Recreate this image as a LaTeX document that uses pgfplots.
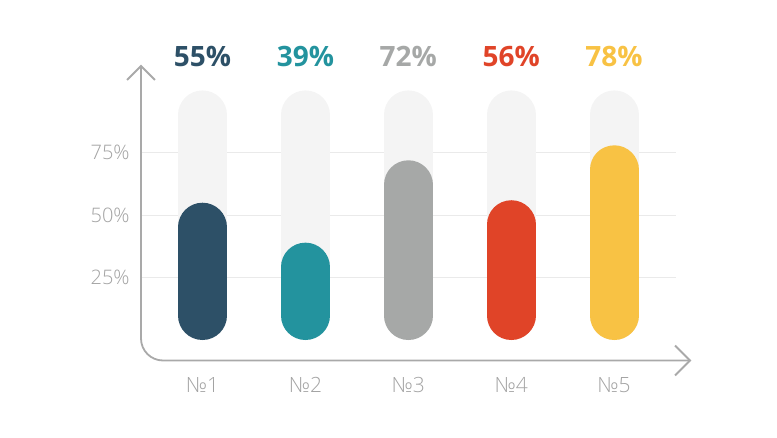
\documentclass[border=0pt]{standalone}
\usepackage{fontspec}
\setmainfont{Open Sans}
\newfontfamily\lightfont{Open Sans Light}
\usepackage{pgfplots}
\pgfplotsset{compat=1.18}
\definecolor{cA}{HTML}{2D5067}
\definecolor{cB}{HTML}{23939E}
\definecolor{cC}{HTML}{A6A8A7}
\definecolor{cD}{HTML}{E04428}
\definecolor{cE}{HTML}{F8C244}
\definecolor{bgc}{HTML}{F4F4F4}
\definecolor{axc}{HTML}{A9A9A9}
\definecolor{gridc}{HTML}{EAEAEA}
\definecolor{tickc}{HTML}{A3A3A3}
\newcommand\pill[3]{%
  \addplot[draw=bgc, mark=none, line width=49pt, line cap=round, shorten <=24.5pt, shorten >=24.5pt] coordinates {(#1,0) (#1,100)};
  \addplot[draw=#3, mark=none, line width=49pt, line cap=round, shorten <=24.5pt, shorten >=24.5pt] coordinates {(#1,0) (#1,#2)};
  \node[anchor=base, text=#3, inner sep=0pt, font=\fontsize{28}{34}\selectfont\bfseries] at (axis cs:#1,109.5) {#2\%};
}
\begin{document}
\begin{tikzpicture}
\path[use as bounding box] (0,0) rectangle (777pt,437pt);
\begin{axis}[
  at={(140.8pt,97pt)}, anchor=south west,
  scale only axis, width=535pt, height=249.6pt,
  xmin=0.4, xmax=5.6, ymin=0, ymax=100,
  clip=false,
  axis line style={draw=none},
  tick style={draw=none},
  xtick={1,2,3,4,5},
  xticklabels={№1,№2,№3,№4,№5},
  ytick={25,50,75},
  yticklabels={25\%,50\%,75\%},
  ymajorgrids,
  grid style={gridc, line width=1pt},
  xticklabel style={anchor=north, inner sep=0pt, yshift=-37pt, text=tickc, font=\lightfont\fontsize{21}{25}\selectfont},
  yticklabel style={anchor=east, inner sep=0pt, xshift=-11pt, text=tickc, font=\lightfont\fontsize{20}{24}\selectfont},
]
\pill{1}{55}{cA}
\pill{2}{39}{cB}
\pill{3}{72}{cC}
\pill{4}{56}{cD}
\pill{5}{78}{cE}
\end{axis}
\draw[axc, line width=1.8pt, rounded corners=22pt] (141pt,371pt) -- (141pt,76.5pt) -- (690pt,76.5pt);
\draw[axc, line width=1.8pt] (127pt,357pt) -- (141pt,371pt) -- (155pt,357pt);
\draw[axc, line width=1.8pt] (675pt,91.5pt) -- (690pt,76.5pt) -- (675pt,61.5pt);
\end{tikzpicture}
\end{document}
